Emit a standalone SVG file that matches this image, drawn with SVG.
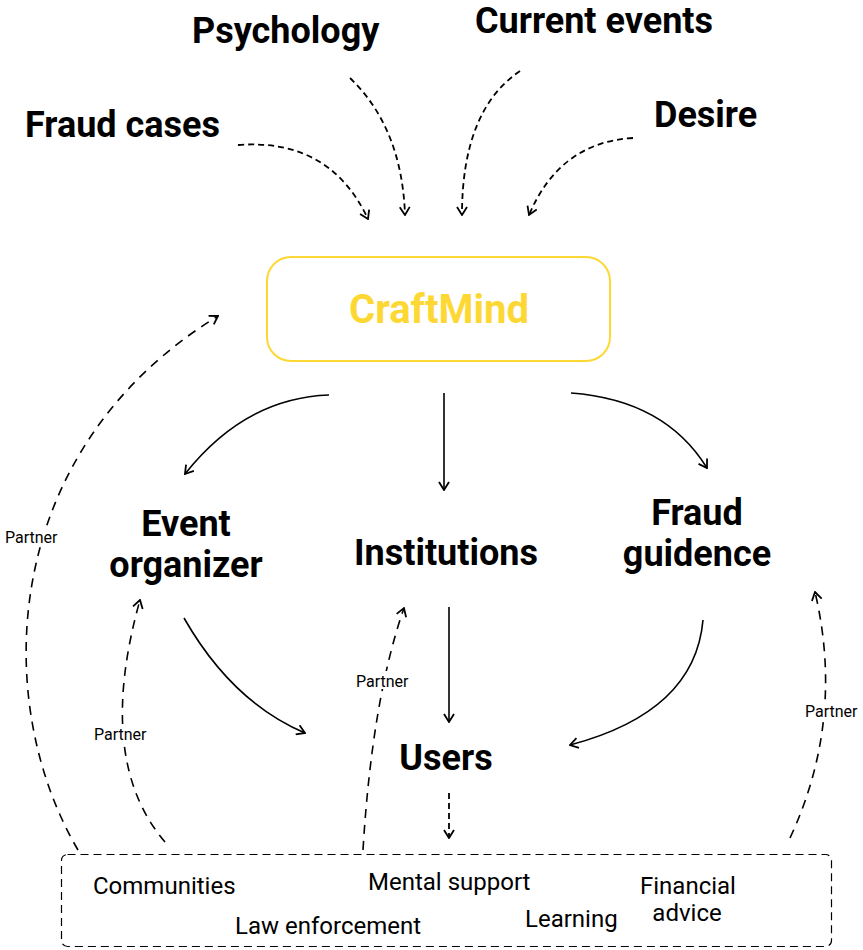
<svg xmlns="http://www.w3.org/2000/svg" width="863" height="950" viewBox="0 0 863 950">
<defs>
<marker id="ah" viewBox="0 0 10 12" refX="9" refY="6" markerWidth="10" markerHeight="12" markerUnits="userSpaceOnUse" orient="auto">
<path d="M1,1 L9,6 L1,11" fill="none" stroke="#000" stroke-width="1.8" stroke-dasharray="none"/>
</marker>
<style>
.h{font-family:Roboto,"Liberation Sans",sans-serif;font-weight:700;font-size:36px;fill:#000}
.s{font-family:Roboto,"Liberation Sans",sans-serif;font-size:16px;fill:#000}
.b{font-family:Roboto,"Liberation Sans",sans-serif;font-size:24px;fill:#000}
.d{fill:none;stroke:#000;stroke-width:1.8;stroke-dasharray:6 4;marker-end:url(#ah)}
.p{fill:none;stroke:#000;stroke-width:1.6;stroke-dasharray:9 7;marker-end:url(#ah)}
.c{fill:none;stroke:#000;stroke-width:1.6;marker-end:url(#ah)}
</style>
</defs>
<rect width="863" height="950" fill="#fff"/>
<g id="connectors">
<path class="d" d="M238,145 Q330,138 368,219"/>
<path class="d" d="M350,78 Q402,128 405,215"/>
<path class="d" d="M520,71 Q462,110 462,215"/>
<path class="d" d="M633,138 Q560,142 529,215"/>
<path class="c" d="M329,395 Q245,398 185,474"/>
<path class="c" d="M444,393 L444,490"/>
<path class="c" d="M571,393 Q665,400 707,468"/>
<path class="c" d="M184,618 Q232,702 305,733"/>
<path class="c" d="M449,607 L449,722"/>
<path class="c" d="M703,620 Q695,712 570,745"/>
<path class="d" d="M449,793 L449,838"/>
<path class="p" d="M78,850 C-10,700 0,450 218,316"/>
<path class="p" d="M165,842 Q95,760 140,600"/>
<path class="p" d="M363,850 Q372,700 404,608"/>
<path class="p" d="M790,838 Q845,720 815,592"/>
<rect x="3" y="527" width="56" height="18" fill="#fff"/>
<text class="s" x="5" y="543">Partner</text>
<rect x="92" y="724" width="56" height="18" fill="#fff"/>
<text class="s" x="94" y="740">Partner</text>
<rect x="354" y="671" width="56" height="18" fill="#fff"/>
<text class="s" x="356" y="687">Partner</text>
<rect x="803" y="701" width="58" height="18" fill="#fff"/>
<text class="s" x="805" y="717">Partner</text>
</g>
<g id="psychology"><text class="h" x="192" y="43">Psychology</text></g>
<g id="current-events"><text class="h" x="475" y="33">Current events</text></g>
<g id="fraud-cases"><text class="h" x="25" y="137">Fraud cases</text></g>
<g id="desire"><text class="h" x="654" y="127">Desire</text></g>
<g id="craftmind">
<rect x="267" y="257" width="343" height="104" rx="24" fill="#fff" stroke="#FDD835" stroke-width="2"/>
<text x="439" y="323" text-anchor="middle" font-family="Roboto,'Liberation Sans',sans-serif" font-weight="700" font-size="40" fill="#FDD835">CraftMind</text>
</g>
<g id="event-organizer">
<text class="h" x="186" y="536" text-anchor="middle">Event</text>
<text class="h" x="186" y="577" text-anchor="middle">organizer</text>
</g>
<g id="institutions"><text class="h" x="446" y="565" text-anchor="middle">Institutions</text></g>
<g id="fraud-guidence">
<text class="h" x="697" y="525" text-anchor="middle">Fraud</text>
<text class="h" x="697" y="566" text-anchor="middle">guidence</text>
</g>
<g id="users"><text class="h" x="446" y="770" text-anchor="middle">Users</text></g>
<g id="partners">
<rect x="61.5" y="854.5" width="770" height="92" rx="6" fill="none" stroke="#000" stroke-width="1.2" stroke-dasharray="8 5"/>
<text class="b" x="93" y="894">Communities</text>
<text class="b" x="368" y="890">Mental support</text>
<text class="b" x="640" y="894">Financial</text>
<text class="b" x="687" y="921" text-anchor="middle">advice</text>
<text class="b" x="525" y="927">Learning</text>
<text class="b" x="235" y="934">Law enforcement</text>
</g>
</svg>
